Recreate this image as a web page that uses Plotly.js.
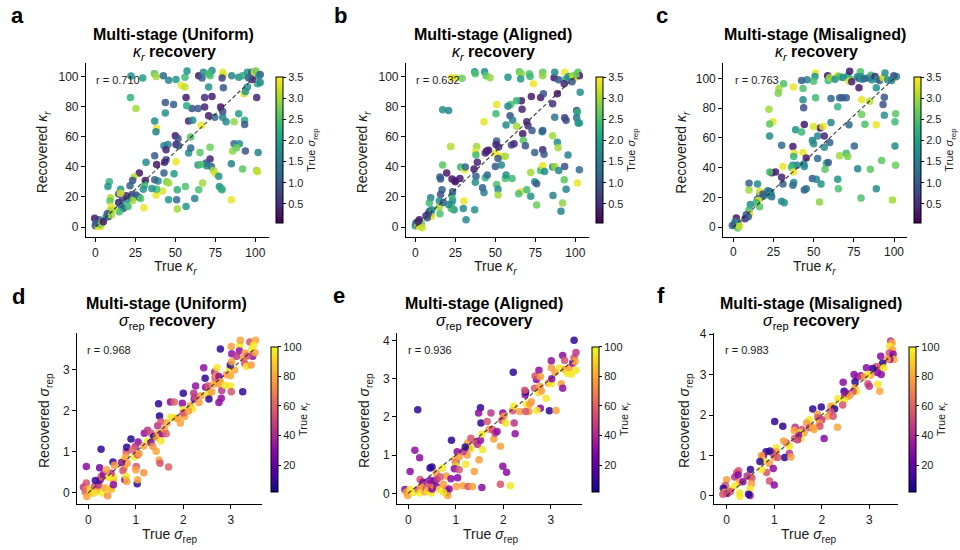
<!DOCTYPE html>
<html><head><meta charset="utf-8">
<script src="https://cdn.plot.ly/plotly-3.0.1.min.js"></script>
<style>html,body{margin:0;padding:0;background:#fff}</style>
</head><body><div id="chart" style="width:960px;height:550px"></div>
<script>
// [true, recovered, colour value]
const uniformKappa = [[22.3,100.3,1.8],[29.6,99,2.0],[36.9,102,2.6],[38,100,3.0],[42.5,100.5,1.2],[45.8,97.5,1.6],[50.4,98,1.9],[56,99.5,2.4],[57.3,103.7,1.8],[53.8,94,3.4],[56,93,3.2],[64.6,100.5,0.3],[66.7,99,1.1],[67.5,102.8,1.7],[71.7,100.5,2.5],[72.9,104,1.7],[71,102,2.4],[79.6,102.8,3.4],[80,101,3.3],[79.2,99,0.7],[85.2,100.5,1.6],[89.6,99.6,1.8],[92,100.5,2.2],[95,102.8,1.9],[97.7,102.8,1.0],[99.4,103,3.4],[100.4,103.7,2.7],[103,101.4,0.9],[102,100,1.6],[101.3,95.2,2.1],[103,96,1.7],[98,98,0.3],[95.8,99,1.0],[93,88.6,3.3],[93.8,90,1.9],[95,93,1.8],[100.8,86,0.4],[70.8,93,1.8],[80,92.6,1.0],[72.9,86.8,0.3],[68.3,86,0.5],[56.7,86,0.3],[60.4,78.8,0.9],[64.2,78.8,1.0],[68.3,79.7,0.4],[57.1,80.6,2.2],[43.75,82.8,1.0],[48.9,81.5,1.1],[22,86,2.3],[25.4,78.8,3.0],[43.75,75.8,1.8],[78.3,79.7,0.2],[79.6,76.6,0.8],[79.6,73,1.6],[89.6,75.3,2.0],[81.7,70,1.7],[86.7,70,2.9],[93.3,70.9,2.1],[93.3,68.2,1.0],[70.8,74,0.3],[74.6,73,1.2],[66.25,67.7,3.4],[58.3,70.4,0.4],[60.8,70.9,1.7],[38.3,65.6,3.4],[37.9,63.3,1.6],[37.1,70.4,1.7],[50,60.7,0.3],[51.7,58.9,0.9],[59.6,59.8,2.5],[50.4,54.9,0.4],[52,54,0.9],[45.4,54.9,1.6],[42.9,54,1.6],[44.2,51.4,0.4],[37.1,47.4,1.0],[44.2,44.7,0.9],[31.7,43,1.7],[38.3,41.6,0.3],[43.3,43,0.4],[27.5,35.9,0.3],[42.9,35.9,1.1],[49.2,35.4,1.9],[50.4,43.4,3.4],[58.3,49.2,1.7],[59.6,52.5,1.2],[65.4,49.6,2.6],[71.7,53,2.7],[71.7,45.2,0.4],[69.2,42.5,0.9],[72.5,40.3,1.1],[69.6,40.7,1.6],[64.2,41.2,1.8],[65.8,41.6,2.5],[73.75,37.6,3.0],[75,35.4,3.3],[77.1,33.7,1.8],[85,42,1.6],[86.7,55.4,1.2],[90,55.4,1.8],[85.8,50.5,2.9],[88.3,52.7,2.7],[93.75,50.5,0.9],[101.7,49.6,1.6],[92,38.5,2.6],[100.8,37.6,2.9],[101.25,36.7,3.2],[77.5,27,1.9],[78.75,25.4,1.7],[79.2,24.8,2.3],[85,18.2,3.4],[67,29.2,3.0],[64.6,24.8,2.5],[62.1,19,1.6],[51.2,24.8,2.2],[56.25,27,2.5],[56.7,13.7,1.9],[50.8,18.2,1.2],[51.25,12,3.0],[45.8,18.2,1.9],[42,23.9,3.3],[44.6,30.1,2.7],[45.8,29.2,3.0],[38,21.3,3.4],[38.3,25.2,2.4],[35.4,25.7,1.8],[39.2,30.6,1.7],[37.1,31.4,1.1],[31.25,31,0.3],[30.8,27.9,2.4],[30.4,12.8,3.4],[30,25.2,1.8],[24.2,33.2,3.1],[23.3,31,0.9],[21.7,27.5,1.1],[22.9,21.7,1.0],[22.5,19.5,1.6],[25.4,21.3,0.9],[27.1,19.9,1.1],[28.3,19,2.5],[23.3,17.7,3.0],[19.6,18.2,1.8],[19.2,20.8,0.4],[17.1,19.5,0.8],[15.8,25.2,1.9],[14.6,22,1.0],[15.8,22.4,3.3],[8.75,30.1,2.3],[7.9,27,1.8],[9.6,19.5,3.1],[9.2,17.3,2.6],[10,13.7,3.4],[14.6,16.4,0.3],[15.8,15,1.0],[16.7,13.7,1.6],[17.5,12.4,1.1],[15,10.2,2.4],[20.4,13.7,2.4],[11.25,11.5,3.2],[9.2,10.6,3.0],[7.5,8.9,0.9],[8.3,7,0.3],[6.7,6.6,1.6],[10,8,3.0],[2.5,4.9,1.2],[1.25,1.8,1.7],[0,0.9,0.9],[1.7,0.4,3.4],[3.3,0.4,3.3],[2.9,1.8,2.6],[-0.4,5.8,0.3],[0.4,3.1,1.0],[4.2,2.7,3.0],[5,3.5,0.3]];

const alignedKappa = [[37.1,103.2,1.8],[37.5,101.8,2.5],[43.3,103.2,1.7],[44.2,100.5,2.6],[46.7,99.2,2.9],[22.5,99.2,3.4],[25,99.2,3.3],[29.2,98.8,2.7],[57.9,99.6,1.8],[65,103.2,2.6],[66.25,101.8,2.9],[65.8,98.3,1.9],[71.25,101.8,2.5],[71.7,100,2.4],[73.75,95.2,3.4],[79.6,102.8,2.6],[79.6,100.5,2.9],[86.7,99.2,0.3],[87.1,102.8,1.7],[89.6,97.9,1.0],[93.3,102.8,3.4],[94.2,98.3,1.9],[95.8,100,1.7],[98.3,100.5,3.0],[99.6,99.2,3.3],[101.7,102.8,2.5],[102.5,100.5,0.3],[100.4,101.4,2.7],[93,95.2,0.4],[103,89.5,1.8],[97.9,96.6,0.9],[88.75,88.6,0.2],[78.3,86,0.3],[72.5,86.8,0.3],[80,88.6,0.9],[85.8,81.9,0.5],[50.8,81.5,3.4],[59.6,81.5,2.5],[57.9,80.2,1.7],[66.25,83.9,0.3],[66.7,78.3,0.4],[63.3,83.9,2.3],[17.1,77.9,1.8],[20.8,77.5,1.6],[50.4,75.3,2.4],[42.9,70,3.4],[59.2,73.9,0.9],[60.8,70.9,1.6],[56.7,67.8,1.7],[63.3,66.9,3.0],[69.6,70,0.4],[70.4,67.3,0.5],[72.9,64.2,1.0],[79.2,63.3,1.6],[79.6,64.2,1.1],[87.1,73,1.4],[93.3,72.6,0.7],[94.2,70.9,0.8],[100.8,77.5,0.9],[101.25,76.2,2.2],[100.8,72.6,1.4],[101.7,69.1,1.7],[102.5,69.1,1.9],[85.8,60.7,3.0],[67.1,62,0.3],[50.8,57.1,1.1],[50.4,54.9,0.4],[52,53.2,0.5],[60,54.5,0.8],[61.7,55.4,0.5],[67.5,57.6,2.6],[68.75,54,0.9],[74.6,49.6,1.1],[79.6,51.4,0.4],[80.4,48.3,1.0],[88.75,56.3,1.7],[89.2,52.7,3.0],[95.4,47.8,1.6],[38.3,53.6,3.0],[37.5,50,3.4],[37.9,47.8,2.4],[44.6,50.5,0.3],[45.8,51,0.3],[43.75,49.2,0.4],[50,48.7,3.4],[53.75,47,3.4],[51.7,45.6,1.0],[56.25,47,3.0],[22.1,53.6,3.1],[17.1,41.2,2.6],[19.6,35.9,0.3],[15.4,33.2,1.1],[15.8,31.9,1.0],[22.9,31.9,0.3],[24.6,31,0.4],[25,30.1,0.3],[27.9,32.3,0.3],[28.3,39.9,2.4],[30.8,38.1,3.4],[31.25,39.9,1.2],[36.7,38.5,0.3],[38.75,43,0.4],[37.9,33.7,1.1],[37.5,29.7,1.8],[43.75,32.8,2.3],[45,34.6,1.2],[42,26.1,1.1],[42.9,23,1.5],[50,40.3,1.0],[50.8,28.3,2.5],[51.7,25.2,1.7],[51.7,21.3,3.0],[56.25,32.3,2.5],[60.4,32.3,2.4],[53.75,41.2,1.7],[56.7,34.6,1.8],[65.8,23.5,3.4],[64.6,22.1,2.5],[69.6,24.8,2.4],[72.1,20.4,1.8],[74.6,30.1,1.8],[75.8,28.8,1.0],[72.1,36.3,3.0],[78.3,37.6,2.4],[79.6,40.7,3.4],[80.8,36.9,1.7],[85.8,39.9,1.6],[87.1,40.3,3.0],[89.6,37.6,1.6],[93,31.4,2.6],[94.2,25.2,1.6],[93.3,40.3,0.9],[102.5,38.1,1.2],[101.25,29.2,3.4],[75.8,14.6,2.7],[86,21,1.6],[92,16,2.9],[91,10.5,1.6],[31.7,4.9,1.7],[37.1,11.5,1.8],[30,12.4,1.7],[30.4,17.3,3.4],[24.2,11.5,1.7],[22.5,12.4,2.4],[22.5,15,2.4],[23.3,17.7,1.8],[22.9,20.8,2.3],[23.3,23.5,1.0],[16.7,24.8,1.1],[15.8,21.7,0.9],[15,17.3,1.8],[15,13.3,3.0],[15.4,8.9,2.5],[17.5,16.4,1.0],[20.8,15,1.7],[9.6,19.5,1.6],[8.75,16,2.4],[9.2,10.6,0.3],[9.6,8.9,0.3],[10,7,3.4],[8.3,9.3,1.0],[10.4,11.5,1.9],[6.7,7.5,0.4],[7.5,6.2,1.0],[2.5,4.9,0.3],[0.4,2.7,1.0],[0,0.9,1.7],[1.7,1.3,3.4],[2.9,0.4,3.3],[3.75,2.2,2.6],[1.7,3.5,0.3],[4.2,-0.4,3.2]];

const misalignedKappa = [[51.2,103.6,3.4],[50.8,101.3,1.8],[50,98.2,2.5],[45.9,99.1,1.6],[42.5,98.7,1.0],[58.7,101.8,0.3],[59.1,98.7,2.3],[60,100.4,3.0],[65,101.8,3.2],[63.3,99.5,1.7],[66.2,101.1,2.4],[68.3,100.7,1.7],[71.2,101.6,1.9],[72.4,104.9,0.3],[73.2,99.5,2.5],[72,98.2,3.3],[73.7,97.8,0.4],[77.4,101.3,1.6],[78.2,100,1.1],[79.1,104.5,2.5],[79.1,101.3,1.8],[80.3,99.5,1.7],[84.4,100.4,1.5],[85.7,102.2,2.4],[86.1,99.1,1.6],[88.2,101.3,0.4],[89.4,99.5,1.8],[91.1,98.7,1.0],[93.2,100.4,3.3],[94.4,103.6,1.7],[96.1,99.1,1.7],[100.2,100.4,3.4],[101.5,101.3,1.5],[99.8,101.8,0.9],[98.5,98.7,1.6],[81.9,100,1.2],[31.3,96.4,2.5],[28.4,93.3,3.0],[37.5,94.2,3.4],[43.4,93.3,2.5],[28,90.1,2.8],[78.2,93.7,0.3],[89,93.7,1.8],[94,87.4,1.0],[93.2,82.5,0.9],[51.2,87,2.4],[60.8,86.5,1.2],[66.2,87,1.0],[67.8,87,1.1],[70.3,87,1.0],[43.4,85.6,1.7],[43.8,80.2,0.9],[65,80.9,2.3],[22.2,79.3,3.0],[24.7,70.8,3.4],[22.6,69.4,2.6],[22.6,61.3,1.7],[79.9,85.6,3.4],[84.9,84.7,3.1],[79.9,75.7,2.7],[94,75.3,1.8],[101,76.2,2.6],[100.6,70.8,2.4],[81.9,69.2,2.5],[89,68.8,3.4],[72,68.8,1.2],[60.8,70.3,1.6],[54.1,66.7,0.3],[55.8,67.6,3.4],[44.2,69,0.3],[50,67.6,3.3],[38.8,65.4,1.8],[42.5,64,2.4],[52.5,61.3,1.7],[56.6,61.3,0.4],[49.2,58.2,1.6],[60,56.9,1.1],[30.1,55.1,1.2],[37.1,54.2,0.3],[56.6,53.7,1.7],[75.3,54.6,1.2],[100.6,54.6,1.7],[37.9,49.7,3.4],[37.6,47.4,2.3],[43.4,50.1,3.4],[45.4,46.5,0.3],[52.5,46.1,1.2],[66.2,47.9,3.0],[70.3,49.7,2.4],[71.2,47.4,2.8],[57.9,42.9,2.4],[59.1,43.4,1.0],[43.8,42.5,1.6],[44.2,40.7,1.7],[39.6,41.6,1.6],[37.1,41.6,1.8],[36.3,40.2,2.4],[30.9,40.7,3.4],[26.3,37.1,0.3],[23.9,36.6,0.3],[22.6,37.1,2.5],[37.6,37.1,3.4],[49.2,32.6,1.0],[51.7,32.1,1.6],[57.1,38.9,2.6],[65,32.1,1.8],[65.4,25.8,2.5],[54.6,29,1.8],[77.4,39.3,1.6],[85.3,38.9,2.6],[92.3,44.7,2.6],[101,41.6,2.7],[89,25.8,1.7],[79.5,19.6,2.5],[99,18.2,3.0],[53.7,16.9,2.9],[37.6,29.9,1.7],[37.1,28.1,1.2],[30.9,29,1.1],[30.1,33.5,0.4],[44.2,24.9,1.1],[45.4,25.8,1.3],[30.1,17.3,1.7],[31.7,16.4,1.8],[9.8,29.4,1.1],[9.8,24.9,3.0],[15.1,29,1.7],[16.4,21.8,1.6],[16.4,24,3.3],[21.4,24.5,1.8],[22.6,24,1.0],[23.4,22.7,1.6],[23.9,20.4,1.2],[21.8,21.8,1.7],[18.9,20.9,1.8],[18.5,22.2,1.0],[15.1,18.7,1.2],[15.6,17.8,3.4],[14.3,16.4,2.4],[16.4,13.7,2.6],[10.6,15.1,1.7],[9.8,11.5,2.4],[10.2,8.8,3.3],[8.1,8.3,1.0],[7.3,5.6,0.4],[9.3,7,1.1],[1.9,6.1,0.3],[1,3.4,1.6],[0.6,1.6,1.0],[2.3,0.7,3.4],[3.1,2.5,1.7],[2.7,-0.7,2.6],[-0.6,1.1,1.1],[3.9,0.7,3.2],[50,56,1.7]];

const uniformSigma = [[-0.04,0.64,30],[0.24,0.61,25],[0.27,1.06,8],[-0.04,0.24,55],[-0.1,0.14,45],[-0.03,0.1,75],[-0.06,0.02,60],[0.04,0.07,95],[-0.03,-0.09,80],[0.07,0,85],[0.13,0.15,55],[0.2,0.07,80],[0.22,0.19,45],[0.25,0.32,28],[0.27,0.4,60],[0.32,0.45,30],[0.3,0,98],[0.35,0.12,80],[0.41,-0.07,75],[0.46,0.1,95],[0.49,0.09,85],[0.53,0.32,80],[0.53,0.4,95],[0.48,0.48,45],[0.52,0.75,8],[0.55,0.67,78],[0.38,0.56,80],[0.43,0.38,95],[0.15,0.3,10],[0.13,0,95],[0.74,0.8,98],[0.8,1.0,55],[0.82,0.72,78],[0.76,0.61,80],[0.7,0.74,32],[0.9,1.31,5],[1.01,0.64,55],[1.03,0.22,8],[1.17,0.49,75],[0.98,0.87,98],[1.04,0.93,55],[1.05,1.24,30],[0.99,1.13,45],[0.81,1.11,8],[0.93,1.05,60],[0.79,0.88,80],[1.07,0.96,78],[1.17,1.14,78],[1.25,1.26,96],[1.18,1.45,32],[1.25,1.52,45],[1.32,1.45,55],[1.38,1.37,8],[1.43,1.35,78],[1.48,1.45,80],[1.53,1.26,96],[1.32,1.22,30],[1.36,1.13,75],[1.43,1.01,80],[1.49,0.8,78],[1.56,1.44,30],[1.6,1.55,78],[1.64,1.44,60],[1.46,1.63,45],[1.5,1.87,6],[1.48,2.17,8],[1.53,1.73,55],[1.66,1.7,80],[1.74,1.84,96],[1.81,1.82,95],[1.88,1.81,78],[1.94,1.7,80],[1.73,2.21,30],[1.81,2.21,60],[1.98,2.18,30],[2.0,2.02,96],[2.03,1.86,80],[2.0,1.94,55],[2.15,2.12,80],[2.19,2.04,96],[2.11,1.99,78],[2.23,2.28,30],[2.26,2.34,55],[2.26,2.6,32],[2.0,2.42,8],[2.22,2.42,45],[2.33,2.2,78],[2.37,2.36,78],[2.47,2.57,30],[2.46,2.79,8],[2.43,3.04,32],[2.52,2.38,96],[2.54,2.46,95],[2.6,2.45,78],[2.54,2.28,8],[2.52,2.6,55],[2.64,2.64,80],[2.67,2.8,55],[2.66,2.94,40],[2.71,3.04,96],[2.7,2.86,78],[2.75,2.83,30],[2.74,2.65,78],[2.78,2.7,80],[2.81,2.49,45],[2.75,2.2,30],[2.8,2.3,32],[2.88,2.62,96],[2.91,2.88,78],[2.97,3.01,96],[2.99,2.85,80],[2.99,2.6,96],[3.01,2.46,55],[2.99,3.11,8],[3.02,3.19,80],[2.78,3.5,8],[3.01,3.56,78],[3.02,3.38,32],[3.19,3.59,96],[3.18,3.45,32],[3.2,3.71,80],[3.26,3.27,78],[3.25,2.46,8],[3.29,3.15,55],[3.3,3.4,80],[3.33,3.07,96],[3.4,3.67,55],[3.44,3.49,96],[3.46,3.32,32],[3.51,3.41,80],[3.52,3.71,80],[3.48,3.59,97],[3.43,3.11,78],[3.35,3.33,55],[3.12,3.32,45],[3.08,2.99,80],[1.04,0.32,80],[0.53,0.2,30],[0.73,0.54,55],[0.77,0.32,28],[0.8,0.4,96],[0.81,0.28,80],[1.51,0.72,55],[1.69,0.63,60],[1.0,0.56,78]];

const alignedSigma = [[3.49,4.01,8],[0.2,2.19,8],[2.21,3.17,8],[-0.07,0.1,30],[-0.04,0.03,78],[-0.01,-0.06,80],[0.04,0.1,96],[0.04,0.57,30],[0.14,1.13,32],[0.24,0.93,30],[0.11,0.03,96],[0.21,0.1,55],[0.25,0.36,55],[0.31,0.29,30],[0.27,0.17,78],[0.25,0.01,98],[0.35,0.04,80],[0.38,0.13,55],[0.41,0.06,96],[0.44,0.11,78],[0.49,0.01,96],[0.5,0.11,28],[0.52,0.22,78],[0.55,0.32,8],[0.46,0.66,8],[0.5,0.69,8],[0.44,0.25,55],[0.59,0.53,78],[0.6,0.36,45],[0.6,0.17,30],[0.66,0.1,96],[0.72,0.66,96],[0.8,0.45,78],[0.8,0.1,55],[0.81,0.03,8],[0.86,0.11,30],[0.83,-0.06,80],[0.74,0.03,96],[0.91,1.39,8],[1.03,1.09,30],[1.0,0.81,8],[1.0,0.74,96],[0.98,0.88,78],[0.97,0.64,30],[1.01,0.18,78],[1.15,0.2,80],[1.26,0.18,55],[1.04,0.41,30],[1.07,0.62,55],[1.21,0.76,96],[1.24,1.0,78],[1.28,1.18,30],[1.25,1.32,78],[1.32,1.44,55],[1.32,1.17,96],[1.42,1.35,55],[1.46,1.28,45],[1.52,1.39,32],[1.55,1.55,96],[1.56,1.14,96],[1.49,0.88,78],[1.53,1.84,8],[1.52,2.24,8],[1.48,2.1,30],[1.66,1.88,55],[1.74,2.1,45],[1.7,1.67,78],[1.77,1.67,55],[1.8,1.42,78],[1.83,1.58,45],[1.87,1.62,32],[1.94,1.23,78],[1.99,2.1,30],[2.01,2.02,78],[1.97,1.91,55],[2.05,1.84,96],[2.2,2.16,55],[2.22,2.28,96],[2.23,1.84,45],[2.25,1.56,32],[2.35,2.14,78],[2.46,2.58,32],[2.47,2.65,8],[2.49,2.33,96],[2.56,2.33,78],[2.59,2.4,78],[2.54,2.14,78],[2.47,2.14,55],[2.45,2.7,55],[2.66,2.75,55],[2.7,2.98,30],[2.67,3.07,55],[2.75,3.22,32],[2.78,3.05,78],[2.77,2.8,78],[2.74,2.63,96],[2.8,2.68,78],[2.78,2.23,30],[2.71,2.17,96],[2.9,2.49,96],[2.97,2.16,8],[3.11,2.17,78],[2.95,2.89,78],[3.01,2.87,96],[3.02,3.0,30],[3.01,3.29,78],[3.01,3.47,32],[3.09,3.17,78],[3.19,3.28,96],[3.22,2.87,78],[3.25,2.75,32],[3.25,3.61,30],[3.29,3.48,55],[3.3,3.24,78],[3.34,3.15,96],[3.4,3.29,80],[3.46,3.41,30],[3.49,3.55,55],[3.51,3.45,80],[3.53,3.69,45],[3.43,3.12,96],[3.53,3.22,96],[1.99,0.71,30],[2.07,0.55,30],[1.94,0.24,55],[2.15,0.2,96],[1.55,0.15,30],[1.35,0.18,78],[1.39,0.57,78],[1.15,1.09,45],[1.2,1.21,8],[1.07,0.95,78],[0.9,0.38,30],[0.67,0.43,55],[0.74,0.24,78],[0.46,0.34,30]];

const misalignedSigma = [[3.45,3.83,45],[3.48,3.78,80],[3.43,3.7,96],[3.49,3.61,80],[3.42,3.53,55],[3.5,3.5,30],[3.52,3.37,80],[3.24,3.45,30],[3.43,3.37,30],[3.38,3.38,78],[3.28,3.28,10],[3.22,3.17,80],[3.15,3.2,55],[3.17,3.05,30],[3.25,3.0,30],[3.31,3.17,96],[3.07,3.15,8],[2.94,3.17,30],[3.03,2.99,78],[2.97,3.0,96],[3.18,2.76,96],[3.22,2.59,80],[2.97,2.77,55],[3.0,2.71,45],[2.82,2.97,30],[2.87,2.94,78],[2.75,2.94,45],[2.7,2.82,8],[2.68,3.0,30],[2.7,2.67,78],[2.73,2.58,96],[2.66,2.58,55],[2.45,2.81,30],[2.47,2.59,8],[2.48,2.48,45],[2.54,2.46,80],[2.48,2.38,96],[2.52,2.54,30],[2.59,2.48,78],[2.44,2.25,55],[2.34,2.4,96],[2.23,2.23,96],[2.19,2.21,78],[2.27,2.15,8],[2.19,2.08,55],[2.13,1.97,80],[2.24,1.97,55],[2.33,1.7,80],[2.05,1.42,30],[1.99,2.2,8],[1.81,2.15,8],[1.91,2.02,78],[1.92,1.93,55],[2.0,1.88,45],[1.95,1.8,78],[1.96,1.72,55],[1.74,1.88,96],[1.68,1.8,78],[1.74,1.69,55],[1.81,1.7,78],[1.84,1.64,80],[1.63,1.56,80],[1.58,1.64,55],[1.54,1.56,96],[1.56,1.42,96],[1.51,1.5,30],[1.49,1.39,45],[1.43,1.42,55],[1.44,1.7,45],[1.42,1.62,80],[1.26,1.31,55],[1.2,1.36,78],[1.32,1.23,96],[1.32,1.05,45],[1.22,0.95,8],[1.35,0.96,78],[1.18,1.72,8],[1.01,1.84,8],[1.04,1.19,96],[1.04,1.09,78],[1.0,0.96,78],[1.07,0.95,55],[0.97,1.05,55],[0.91,1.11,8],[0.83,1.09,8],[0.77,0.98,30],[0.73,1.0,78],[0.78,0.86,96],[0.9,0.8,78],[0.7,0.85,8],[0.98,0.68,30],[0.84,0.58,55],[0.9,0.37,55],[1.0,0.27,30],[0.74,0.65,96],[0.5,0.65,8],[0.5,0.47,78],[0.53,0.44,55],[0.52,0.3,78],[0.49,0.17,96],[0.49,0.01,30],[0.46,0.04,8],[0.43,0.49,45],[0.27,0.07,96],[0.28,-0.01,96],[0.25,0.62,55],[0.21,0.57,55],[0.17,0.47,45],[0.24,0.52,30],[0.27,0.34,78],[0.18,0.26,96],[0.06,0.16,96],[0,0.4,78],[-0.03,0.26,55],[-0.07,0.19,8],[-0.04,0.09,80],[0.01,0.06,30],[-0.08,0.04,55],[0.08,0.11,55],[0.34,0.35,30]];

const kappaDiag = [0, 100];
const sigmaDiag = [0, 3.5];
const rValues = ['0.710', '0.632', '0.763', '0.968', '0.936', '0.983'];
const conditions = ['Uniform', 'Aligned', 'Misaligned', 'Uniform', 'Aligned', 'Misaligned'];
const panelLetters = ['a', 'b', 'c', 'd', 'e', 'f'];
const kappaTicks = [0, 25, 50, 75, 100];
const kappaYTicks = [0, 20, 40, 60, 80, 100];
const sigmaTicks = [0, 1, 2, 3];
const sigmaYTicks = [[0, 1, 2, 3], [0, 1, 2, 3, 4], [0, 1, 2, 3, 4]];
const sigmaCbTicks = [0.5, 1.0, 1.5, 2.0, 2.5, 3.0, 3.5];
const kappaCbTicks = [20, 40, 60, 80, 100];

const W = 960, H = 550;
const FONT = 'Liberation Sans, Arial, Helvetica, sans-serif';
const INK = '#1a1a1a';
const px = v => v / W;
const py = v => 1 - v / H;

const viridis = [[0,'#440154'],[0.111,'#482878'],[0.222,'#3e4a89'],[0.333,'#31688e'],[0.444,'#26828e'],[0.555,'#1f9e89'],[0.666,'#35b779'],[0.777,'#6ece58'],[0.888,'#b5de2b'],[1,'#fde725']];
const plasma = [[0,'#0d0887'],[0.1,'#41049d'],[0.2,'#6a00a8'],[0.3,'#8f0da4'],[0.4,'#b12a90'],[0.5,'#cc4778'],[0.6,'#e16462'],[0.7,'#f2844b'],[0.8,'#fca636'],[0.9,'#fcce25'],[1,'#f0f921']];

// layout geometry (pixels)
const panels = [
  {pts: uniformKappa,    dom: [86, 269, 63, 237],      xr: [-5.8, 108.5], yr: [-6.6, 109],   cb: [276, 150, 146],   title: 173.3, tl: [35, 52.5], letter: [17.5, 16], ylab: 43.3, xlab: 175.5, rx: 94.3},
  {pts: alignedKappa,    dom: [406, 589, 63, 237],     xr: [-5.8, 108.5], yr: [-6.6, 109],   cb: [596, 150, 146],   title: 492.5, tl: [35, 52.5], letter: [340.5, 16], ylab: 363.3, xlab: 495, rx: 414.3},
  {pts: misalignedKappa, dom: [723.3, 906.7, 63, 236.7], xr: [-6.2, 107.9], yr: [-6.5, 110.4], cb: [914, 150, 146],   title: 815, tl: [35, 52.5], letter: [661.7, 16], ylab: 681.7, xlab: 814.7, rx: 732.7},
  {pts: uniformSigma,    dom: [77.3, 261.7, 333.3, 504], xr: [-0.23, 3.65], yr: [-0.27, 3.88], cb: [270.7, 419.3, 145.3], title: 166.3, tl: [303, 321.5], letter: [18, 296], ylab: 45, xlab: 170, rx: 85},
  {pts: alignedSigma,    dom: [397.3, 581.7, 333.3, 504], xr: [-0.23, 3.65], yr: [-0.28, 4.19], cb: [591.7, 419.3, 145.3], title: 483.7, tl: [303, 321.5], letter: [339, 295], ylab: 365, xlab: 490.8, rx: 406},
  {pts: misalignedSigma, dom: [714, 898.3, 333.3, 504], xr: [-0.267, 3.61], yr: [-0.2, 4.02], cb: [909.3, 419.3, 145.3], title: 810.5, tl: [303, 321.5], letter: [661, 295], ylab: 685, xlab: 809, rx: 723.3}
];

// subscript as an absolutely sized, baseline-shifted span
const sub = (t, size, italic) =>
  '<span style="font-size:' + size + 'px;baseline-shift:-' + (size * 0.4).toFixed(1) + 'px' +
  (italic ? ';font-style:italic' : '') + '">' + t + '</span>';
const KAP = s => '<i>κ</i>' + sub('r', s, true);
const SIG = s => '<i>σ</i>' + sub('rep', s, false);

const traces = [];
const layout = {
  width: W, height: H, margin: {l: 0, r: 0, t: 0, b: 0},
  paper_bgcolor: '#fff', plot_bgcolor: '#fff', showlegend: false,
  font: {family: FONT, color: INK},
  annotations: []
};

panels.forEach((p, i) => {
  const n = i + 1;
  const sfx = n === 1 ? '' : String(n);
  const isKappa = i < 3;
  const xs = p.pts.map(d => d[0]);
  const ys = p.pts.map(d => d[1]);
  const cs = p.pts.map(d => d[2]);
  traces.push({
    type: 'scatter', mode: 'markers', x: xs, y: ys,
    xaxis: 'x' + sfx, yaxis: 'y' + sfx, hoverinfo: 'skip',
    marker: {
      size: 7.5, opacity: 0.85, line: {width: 0}, color: cs,
      colorscale: isKappa ? viridis : plasma,
      cmin: isKappa ? 0.05 : 2, cmax: isKappa ? 3.5 : 100,
      showscale: true,
      colorbar: {
        x: px(p.cb[0]), xanchor: 'left', xpad: 0, ypad: 0,
        y: py(p.cb[1]), yanchor: 'middle', len: p.cb[2], lenmode: 'pixels',
        thickness: 7, thicknessmode: 'pixels',
        outlinewidth: 1, outlinecolor: '#000',
        ticks: 'outside', ticklen: 3, tickwidth: 1, tickcolor: '#000',
        tickvals: isKappa ? sigmaCbTicks : kappaCbTicks,
        tickformat: isKappa ? '.1f' : 'd',
        tickfont: {size: 11, color: INK, family: FONT},
        title: {text: 'True ' + (isKappa ? SIG(8) : KAP(8)), side: 'right', font: {size: 11, color: INK, family: FONT}}
      }
    }
  });
  const diag = isKappa ? kappaDiag : sigmaDiag;
  traces.push({
    type: 'scatter', mode: 'lines', x: diag, y: diag,
    xaxis: 'x' + sfx, yaxis: 'y' + sfx, hoverinfo: 'skip',
    line: {color: 'rgba(40,40,40,0.85)', width: 1.2, dash: '4px,2.5px'}
  });
  const yt = isKappa ? kappaYTicks : sigmaYTicks[i - 3];
  const common = {
    showline: true, linecolor: '#000', linewidth: 1.2, mirror: false,
    showgrid: false, zeroline: false, ticks: 'outside', ticklen: 4, tickwidth: 1.1, tickcolor: '#000',
    tickfont: {size: 12, color: INK, family: FONT}, fixedrange: true
  };
  layout['xaxis' + sfx] = Object.assign({}, common, {
    domain: [px(p.dom[0]), px(p.dom[1])], range: p.xr, anchor: 'y' + sfx,
    tickvals: isKappa ? kappaTicks : sigmaTicks
  });
  layout['yaxis' + sfx] = Object.assign({}, common, {
    domain: [py(p.dom[3]), py(p.dom[2])], range: p.yr, anchor: 'x' + sfx,
    tickvals: yt
  });

  const A = layout.annotations;
  const ann = (x, y, text, opts) => A.push(Object.assign({
    xref: 'paper', yref: 'paper', x: px(x), y: py(y), text: text, showarrow: false,
    xanchor: 'center', yanchor: 'middle', font: {family: FONT, color: INK, size: 14}
  }, opts || {}));

  ann(p.letter[0], p.letter[1], '<b>' + panelLetters[i] + '</b>', {font: {family: FONT, color: '#000', size: 22}});
  ann(p.title, p.tl[0], '<b>Multi-stage (' + conditions[i] + ')</b>', {font: {family: FONT, color: '#000', size: 16}});
  ann(p.title + 1, p.tl[1], (isKappa ? KAP(11) : SIG(11)) + '<b> recovery</b>', {font: {family: FONT, color: '#000', size: 16}});
  ann(p.ylab, isKappa ? 152 : 421, 'Recovered ' + (isKappa ? KAP(10) : SIG(10)), {textangle: -90});
  ann(p.xlab, isKappa ? 267 : 535, 'True ' + (isKappa ? KAP(10) : SIG(10)));
  ann(p.rx, isKappa ? 80 : 350, 'r = ' + rValues[i], {xanchor: 'left', font: {family: FONT, color: INK, size: 11}});
});

Plotly.newPlot('chart', traces, layout, {displayModeBar: false});
</script>
</body></html>
